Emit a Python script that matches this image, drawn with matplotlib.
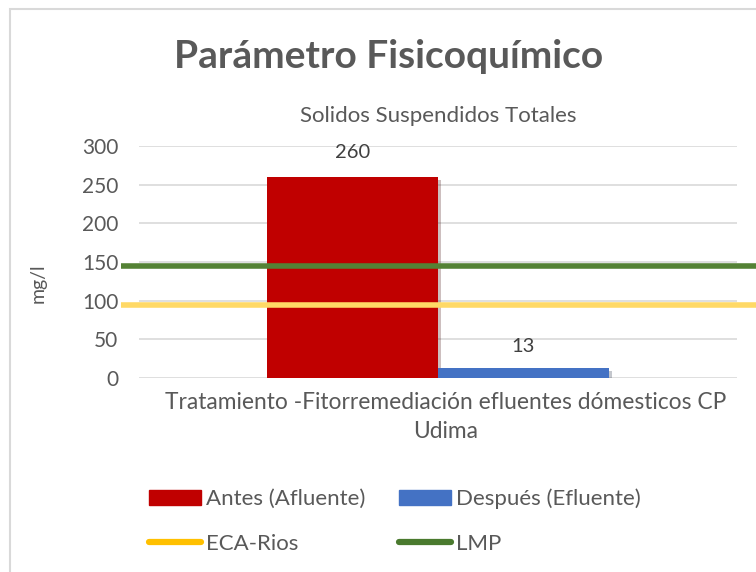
import numpy as np
import matplotlib
matplotlib.use("Agg")
import matplotlib.pyplot as plt
from matplotlib.patches import Patch, Rectangle
from matplotlib.lines import Line2D
from matplotlib.transforms import ScaledTranslation
import matplotlib.patheffects as pe

plt.rcParams['font.family'] = ['Lato', 'DejaVu Sans']

# data
category = "Tratamiento -Fitorremediación efluentes dómesticos CP\nUdima"
series_names = ["Antes (Afluente)", "Después (Efluente)"]
series_values = [260, 13]
series_colors = ["#C00000", "#4472C4"]
limit_names = ["ECA-Rios", "LMP"]
limit_values = [95, 145]
limit_colors = ["#FFD966", "#548235"]
legend_line_colors = ["#FFC000", "#4A7A2E"]
yticks = [0, 50, 100, 150, 200, 250, 300]

grey = "#595959"

fig = plt.figure(figsize=(7.56, 5.72), dpi=100)
ax = fig.add_axes([139/756, 1 - 378/572, 598/756, 232/572])

# chart frame
fig.patches.append(Rectangle((10/756, -0.1), 1.2, 1 - 9/572 + 0.1,
                             transform=fig.transFigure, fill=False,
                             edgecolor="#d9d9d9", linewidth=1.5))

width = 0.286
offsets = [-width/2, width/2]
shadow = [pe.SimplePatchShadow(offset=(2, -2), alpha=0.25), pe.Normal()]
for name, val, col, off in zip(series_names, series_values, series_colors, offsets):
    b = ax.bar(off, val, width=width, color=col, zorder=3)
    b[0].set_path_effects(shadow)

# data labels
ax.text(offsets[0], series_values[0] + 32, str(series_values[0]), ha="center",
        va="center", fontsize=14.5, color="#404040")
ax.text(offsets[1], series_values[1] + 28, str(series_values[1]), ha="center",
        va="center", fontsize=14.5, color="#404040")

# limit lines stretch past the plot area
for val, col in zip(limit_values, limit_colors):
    ax.plot([-0.53, 0.54], [val, val], color=col, linewidth=4, zorder=4,
            clip_on=False, solid_capstyle="butt")

ax.set_xlim(-0.5, 0.5)
ax.set_ylim(0, 300)
ax.set_yticks(yticks)
ax.set_xticks([0])
ax.set_xticklabels([category], fontsize=16.4, color=grey, linespacing=1.45)
ax.tick_params(axis="both", length=0, labelsize=15, labelcolor=grey)
ax.tick_params(axis="x", labelsize=16.4, pad=10)
ax.tick_params(axis="y", pad=15)
# category label sits a little right of centre in the original
for lbl in ax.get_xticklabels():
    lbl.set_transform(lbl.get_transform() + ScaledTranslation(8/100, 0, fig.dpi_scale_trans))
ax.grid(axis="y", color="#d9d9d9", linewidth=1.2, zorder=0)
for s in ax.spines.values():
    s.set_visible(False)

ax.set_ylabel("mg/l", fontsize=14, color=grey)
ax.yaxis.set_label_coords(-0.155, 0.41)

fig.text(389/756, 1 - 57/572, "Parámetro Fisicoquímico", ha="center", va="center",
         fontsize=28, fontweight="bold", color=grey)
fig.text(438/756, 1 - 116/572, "Solidos Suspendidos Totales", ha="center",
         va="center", fontsize=16, color=grey)

# legend: row order Antes, Después / ECA-Rios, LMP
handles = [Patch(color=series_colors[0]),
           Line2D([], [], color=legend_line_colors[0], linewidth=4.5, solid_capstyle="round"),
           Patch(color=series_colors[1]),
           Line2D([], [], color=legend_line_colors[1], linewidth=4.5, solid_capstyle="round")]
labels = [series_names[0], limit_names[0], series_names[1], limit_names[1]]
leg = fig.legend(handles, labels, loc="center left", bbox_to_anchor=(138/756, 1 - 521/572),
                 ncol=2, frameon=False, fontsize=16, labelcolor=grey, borderpad=0,
                 handlelength=2.35, handleheight=0.65, handletextpad=0.22,
                 columnspacing=1.5, labelspacing=1.1)

fig.savefig("out.png", dpi=100)
